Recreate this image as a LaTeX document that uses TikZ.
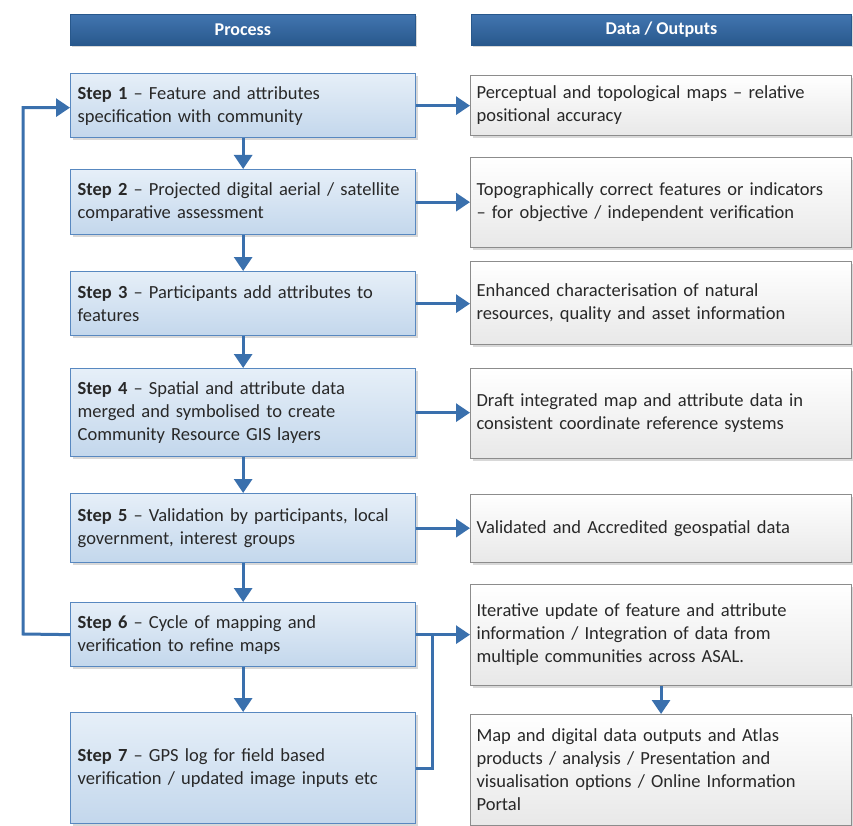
\documentclass[tikz,border=0pt]{standalone}
\usepackage{fontspec}
\setmainfont{Carlito}
\usetikzlibrary{arrows.meta,shadows}

\definecolor{flowblue}{RGB}{58,112,173}
\definecolor{headtop}{RGB}{66,117,176}
\definecolor{headbot}{RGB}{40,88,140}
\definecolor{steptop}{RGB}{230,239,248}
\definecolor{stepbot}{RGB}{195,215,236}
\definecolor{stepline}{RGB}{88,136,192}
\definecolor{outbot}{RGB}{232,232,232}
\definecolor{outline}{RGB}{140,140,140}
\definecolor{bodytext}{RGB}{40,40,40}

\tikzset{every picture/.style={line width=0.75pt}}
\tikzset{
  headbox/.style={draw=headbot, top color=headtop, bottom color=headbot,
    text=white, font=\fontsize{18}{20}\selectfont\bfseries, anchor=north west,
    minimum height=31pt, inner sep=0pt,
    drop shadow={shadow xshift=1.5pt, shadow yshift=-2pt, fill=black!30, opacity=0.5}},
  stepbox/.style={draw=stepline, line width=1.3pt, top color=steptop, bottom color=stepbot,
    text=bodytext, font=\fontsize{18.5}{23}\selectfont, anchor=north west, align=left,
    minimum width=345pt, text width=331pt, inner xsep=7pt, inner ysep=0pt,
    drop shadow={shadow xshift=2pt, shadow yshift=-2.5pt, fill=black!30, opacity=0.5}},
  outbox/.style={draw=outline, line width=1.1pt, top color=white, bottom color=outbot,
    text=bodytext, font=\fontsize{18.5}{23}\selectfont, anchor=north west, align=left,
    minimum width=381pt, text width=369pt, inner xsep=5pt, inner ysep=0pt,
    drop shadow={shadow xshift=2pt, shadow yshift=-2.5pt, fill=black!30, opacity=0.5}},
  flow/.style={draw=flowblue, line width=3pt, -{Triangle[length=14pt,width=18pt]}},
  flowline/.style={draw=flowblue, line width=3pt}
}

\begin{document}
\begin{tikzpicture}[x=1pt,y=1pt,yscale=-1,xscale=1]
\useasboundingbox (0,0) rectangle (853,826);

% Headers
\node [headbox, minimum width=345pt] (proc) at (70,14) {Process};
\node [headbox, minimum width=380pt] (data) at (471,14) {Data / Outputs};

% Process steps
\node [stepbox, minimum height=64pt] (s1) at (70,73)
  {\textbf{Step 1} -- Feature and attributes\\specification with community};
\node [stepbox, minimum height=65pt] (s2) at (70,169)
  {\textbf{Step 2} -- Projected digital aerial / satellite\\comparative assessment};
\node [stepbox, minimum height=64pt] (s3) at (70,271)
  {\textbf{Step 3} -- Participants add attributes to\\features};
\node [stepbox, minimum height=88pt] (s4) at (70,368)
  {\textbf{Step 4} -- Spatial and attribute data\\merged and symbolised to create\\Community Resource GIS layers};
\node [stepbox, minimum height=69pt] (s5) at (70,493)
  {\textbf{Step 5} -- Validation by participants, local\\government, interest groups};
\node [stepbox, minimum height=64pt] (s6) at (70,602)
  {\textbf{Step 6} -- Cycle of mapping and\\verification to refine maps};
\node [stepbox, minimum height=111pt] (s7) at (70,712)
  {\textbf{Step 7} -- GPS log for field based\\verification / updated image inputs etc};

% Data / outputs
\node [outbox, minimum height=60pt] (o1) at (470,75)
  {Perceptual and topological maps -- relative\\positional accuracy};
\node [outbox, minimum height=90pt] (o2) at (470,157)
  {Topographically correct features or indicators\\-- for objective / independent verification};
\node [outbox, minimum height=83pt] (o3) at (470,261)
  {Enhanced characterisation of natural\\resources, quality and asset information};
\node [outbox, minimum height=90pt] (o4) at (470,368)
  {Draft integrated map and attribute data in\\consistent coordinate reference systems};
\node [outbox, minimum height=68pt] (o5) at (470,494)
  {Validated and Accredited geospatial data};
\node [outbox, minimum height=101pt] (o6) at (470,584)
  {Iterative update of feature and attribute\\information / Integration of data from\\multiple communities across ASAL.};
\node [outbox, minimum height=111pt] (o7) at (470,714)
  {Map and digital data outputs and Atlas\\products / analysis / Presentation and\\visualisation options / Online Information\\Portal};

% Down arrows
\foreach \a/\b in {s1/s2,s2/s3,s3/s4,s4/s5,s5/s6,s6/s7,o6/o7}
  \draw [flow] (\a.south) -- (\b.north);

% Step to output arrows
\foreach \a/\b in {s1/o1,s2/o2,s3/o3,s4/o4,s5/o5,s6/o6}
  \draw [flow] (\a.east) -- (\a.east -| \b.west);

% Step 7 joins the step 6 arrow
\coordinate (join) at (432,634);
\draw [flowline] (s7.east) -| (join);

% Feedback loop
\coordinate (loop) at (23,634);
\draw [flow] (s6.west) -- (loop) |- ([yshift=2pt]s1.west);

\end{tikzpicture}
\end{document}
